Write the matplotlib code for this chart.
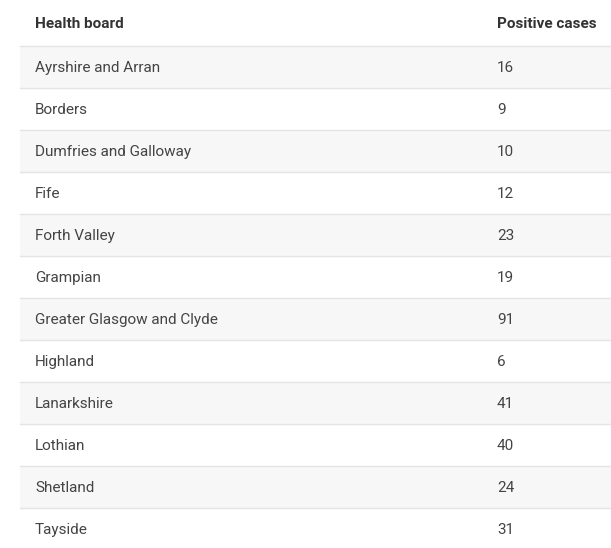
import matplotlib.pyplot as plt
from matplotlib.patches import Rectangle

# table contents
header = ["Health board", "Positive cases"]
boards = ["Ayrshire and Arran", "Borders", "Dumfries and Galloway", "Fife",
          "Forth Valley", "Grampian", "Greater Glasgow and Clyde", "Highland",
          "Lanarkshire", "Lothian", "Shetland", "Tayside"]
cases = [16, 9, 10, 12, 23, 19, 91, 6, 41, 40, 24, 31]

W, H = 611, 548
fig = plt.figure(figsize=(W / 100, H / 100), dpi=100)
ax = fig.add_axes([0, 0, 1, 1])
ax.set_xlim(0, W)
ax.set_ylim(H, 0)
ax.axis("off")

plt.rcParams['font.family'] = ['Roboto', 'DejaVu Sans']
x0, x1 = 20, W
col2 = 497
head_h = 46
row_h = 42

ax.text(35, head_h / 2 + 1, header[0], fontsize=11, fontweight="bold",
        color="#333333", va="center")
ax.text(col2, head_h / 2 + 1, header[1], fontsize=11, fontweight="bold",
        color="#333333", va="center")

for i, (b, c) in enumerate(zip(boards, cases)):
    top = head_h + i * row_h
    bg = "#f7f7f7" if i % 2 == 0 else "white"
    ax.add_patch(Rectangle((x0, top), x1 - x0, row_h, facecolor=bg, edgecolor="none"))
    ax.plot([x0, x1], [top, top], color="#e4e4e4", lw=1)
    ax.text(35, top + row_h / 2 + 1, b, fontsize=11, color="#444444", va="center")
    ax.text(col2, top + row_h / 2 + 1, str(c), fontsize=11, color="#444444", va="center")

fig.savefig("out.png", dpi=100)
